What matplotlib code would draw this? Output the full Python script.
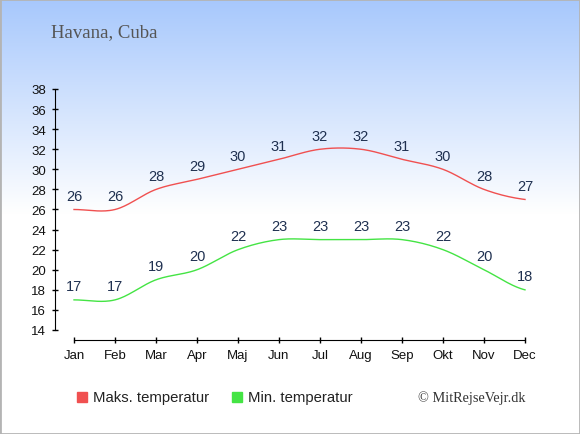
import numpy as np
import matplotlib
matplotlib.use("Agg")
import matplotlib.pyplot as plt
from matplotlib.patches import Rectangle
from matplotlib.lines import Line2D

months = ["Jan", "Feb", "Mar", "Apr", "Maj", "Jun", "Jul", "Aug", "Sep", "Okt", "Nov", "Dec"]
max_temp = [26, 26, 28, 29, 30, 31, 32, 32, 31, 30, 28, 27]
min_temp = [17, 17, 19, 20, 22, 23, 23, 23, 23, 22, 20, 18]
yticks = list(range(14, 39, 2))
title = "Havana, Cuba"
legend_labels = ["Maks. temperatur", "Min. temperatur"]
credit = "© MitRejseVejr.dk"

RED = "#f05050"
GREEN = "#44e444"
LBL = "#1f3050"

W, H = 580, 435
fig = plt.figure(figsize=(W / 100, H / 100), dpi=100)

# background gradient
bg = fig.add_axes([0, 0, 1, 1], zorder=-10)
rows = np.linspace(0, 1, H)
top = np.array([0.655, 0.784, 0.99])
white = np.array([1.0, 1.0, 1.0])
t = np.clip(rows / (215 / H), 0, 1)[:, None]
grad = top * (1 - t) + white * t
img = np.repeat(grad[:, None, :], 2, axis=1)
bg.imshow(img, aspect="auto", extent=[0, 1, 0, 1])
bg.set_axis_off()
bg.add_patch(Rectangle((0, 0), 1, 1, transform=bg.transAxes, fill=False,
                       edgecolor="#b4b4b4", linewidth=2))

def catmull(y, n=30):
    y = np.asarray(y, dtype=float)
    x = np.arange(len(y), dtype=float)
    p = np.concatenate([[y[0]], y, [y[-1]]])
    xs, ys = [], []
    for i in range(len(y) - 1):
        p0, p1, p2, p3 = p[i], p[i + 1], p[i + 2], p[i + 3]
        s = np.linspace(0, 1, n, endpoint=False)
        v = 0.5 * ((2 * p1) + (-p0 + p2) * s + (2 * p0 - 5 * p1 + 4 * p2 - p3) * s ** 2
                   + (-p0 + 3 * p1 - 3 * p2 + p3) * s ** 3)
        xs.append(x[i] + s)
        ys.append(v)
    xs.append([x[-1]])
    ys.append([y[-1]])
    return np.concatenate(xs), np.concatenate(ys)

x0, x1 = 55, 525
yt, yb = 90, 341
ax = fig.add_axes([x0 / W, 1 - yb / H, (x1 - x0) / W, (yb - yt) / H])
ax.patch.set_alpha(0)
ax.set_xlim(-19 / 41, 11)
ax.set_ylim(14 - 10 / 10.04, 38)

for data, col in ((max_temp, RED), (min_temp, GREEN)):
    xs, ys = catmull(data)
    ax.plot(xs, ys, color=col, linewidth=1.0, clip_on=False)
    for i, v in enumerate(data):
        ax.annotate(str(v), (i, v), xytext=(0, 13.5), textcoords="offset pixels",
                    ha="center", va="center", fontsize=10.5, color=LBL,
                    family="Liberation Sans")

for s in ("top", "right"):
    ax.spines[s].set_visible(False)
ax.spines["left"].set_bounds(14, 38)
ax.spines["bottom"].set_bounds(0, 11)
ax.set_yticks(yticks)
ax.set_xticks(range(12))
ax.set_xticklabels(months)
ax.tick_params(direction="inout", length=5, width=1, labelsize=9.5, colors="black", pad=4)
ax.tick_params(axis="x", pad=4)
for lab in ax.get_xticklabels() + ax.get_yticklabels():
    lab.set_family("Liberation Sans")
    lab.set_color("#111111")

fig.text(51 / W, 1 - 37 / H, title, fontsize=13.5, family="Liberation Serif",
         color="#555555", ha="left", va="baseline")

ly = 1 - 398 / H
for xp, col, lab in ((82, RED, legend_labels[0]), (237, GREEN, legend_labels[1])):
    fig.add_artist(Line2D([xp / W], [ly], marker="s", markersize=7.5, color=col,
                          linestyle="none", transform=fig.transFigure))
    fig.text((xp + 11) / W, ly, lab, fontsize=10.7, family="Liberation Sans",
             color="#222222", ha="left", va="center")
fig.text(526 / W, ly, credit, fontsize=10.3, family="Liberation Serif",
         color="#333333", ha="right", va="center")

fig.savefig("out.png", dpi=100)
